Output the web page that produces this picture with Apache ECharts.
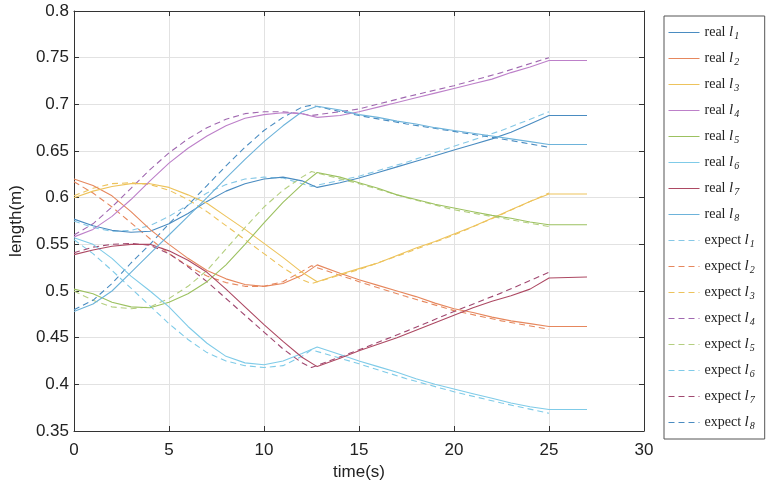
<!DOCTYPE html>
<html><head><meta charset="utf-8">
<script src="https://cdn.jsdelivr.net/npm/echarts@6/dist/echarts.min.js"></script>
<style>html,body{margin:0;padding:0;background:#fff}#c{width:772px;height:489px}</style>
</head><body><div id="c"></div>
<script>
// time grids (s)
const T_REAL = [0,1,2,3,4,5,6,7,8,9,10,11,12,12.8,14,15,16,17,18,19,20,21,22,23,24,25,27];
const T_EXP  = [0,1,2,3,4,5,6,7,8,9,10,11,12,12.5,15,17.5,20,22.5,25];

// real lengths (m)
const REAL_L1 = [0.577,0.570,0.565,0.563,0.564,0.572,0.583,0.596,0.607,0.615,0.620,0.622,0.618,0.611,0.616,0.621,0.627,0.633,0.639,0.645,0.651,0.657,0.663,0.670,0.679,0.688,0.688];
const REAL_L2 = [0.620,0.613,0.602,0.585,0.566,0.550,0.535,0.522,0.513,0.507,0.505,0.508,0.517,0.528,0.519,0.512,0.506,0.500,0.494,0.487,0.481,0.477,0.472,0.468,0.465,0.462,0.462];
const REAL_L3 = [0.600,0.607,0.612,0.615,0.615,0.611,0.603,0.594,0.580,0.566,0.551,0.536,0.520,0.510,0.518,0.524,0.530,0.538,0.546,0.553,0.561,0.569,0.578,0.587,0.596,0.604,0.604];
const REAL_L4 = [0.558,0.566,0.580,0.598,0.618,0.637,0.653,0.666,0.677,0.685,0.689,0.691,0.690,0.686,0.688,0.692,0.697,0.702,0.707,0.712,0.717,0.722,0.727,0.734,0.740,0.747,0.747];
const REAL_L5 = [0.502,0.497,0.488,0.483,0.482,0.488,0.497,0.510,0.528,0.550,0.573,0.595,0.614,0.627,0.622,0.616,0.610,0.603,0.598,0.593,0.589,0.585,0.581,0.578,0.574,0.571,0.571];
const REAL_L6 = [0.557,0.550,0.535,0.516,0.500,0.483,0.462,0.444,0.430,0.423,0.421,0.425,0.433,0.440,0.432,0.425,0.419,0.413,0.406,0.400,0.395,0.390,0.385,0.380,0.376,0.373,0.373];
const REAL_L7 = [0.539,0.544,0.548,0.550,0.550,0.543,0.533,0.520,0.502,0.483,0.464,0.446,0.429,0.419,0.428,0.436,0.443,0.450,0.458,0.466,0.474,0.482,0.489,0.495,0.502,0.514,0.515];
const REAL_L8 = [0.478,0.486,0.500,0.520,0.540,0.560,0.580,0.600,0.621,0.641,0.660,0.677,0.692,0.698,0.694,0.689,0.686,0.682,0.679,0.675,0.672,0.669,0.666,0.663,0.660,0.657,0.657];

// expected lengths (m)
const EXP_L1 = [0.575,0.568,0.564,0.565,0.570,0.580,0.592,0.605,0.614,0.620,0.622,0.621,0.615,0.612,0.623,0.638,0.655,0.672,0.692];
const EXP_L2 = [0.617,0.605,0.590,0.573,0.556,0.540,0.527,0.516,0.509,0.505,0.505,0.510,0.521,0.527,0.510,0.494,0.479,0.468,0.459];
const EXP_L3 = [0.602,0.610,0.615,0.616,0.614,0.608,0.598,0.585,0.570,0.555,0.540,0.525,0.512,0.508,0.523,0.541,0.560,0.582,0.605];
const EXP_L4 = [0.560,0.572,0.590,0.610,0.630,0.648,0.663,0.675,0.684,0.690,0.692,0.692,0.690,0.688,0.695,0.708,0.720,0.734,0.750];
const EXP_L5 = [0.500,0.490,0.483,0.481,0.483,0.492,0.505,0.522,0.545,0.568,0.590,0.608,0.622,0.628,0.615,0.600,0.587,0.578,0.569];
const EXP_L6 = [0.555,0.540,0.522,0.503,0.484,0.465,0.448,0.434,0.425,0.420,0.418,0.420,0.430,0.437,0.422,0.406,0.392,0.380,0.369];
const EXP_L7 = [0.541,0.547,0.550,0.551,0.549,0.540,0.526,0.510,0.492,0.474,0.456,0.438,0.423,0.418,0.437,0.457,0.478,0.498,0.520];
const EXP_L8 = [0.480,0.490,0.508,0.530,0.550,0.572,0.592,0.613,0.634,0.654,0.672,0.686,0.697,0.699,0.688,0.679,0.671,0.663,0.654];

const X_TICKS = [0,5,10,15,20,25,30];
const Y_TICKS = [0.35,0.4,0.45,0.5,0.55,0.6,0.65,0.7,0.75,0.8];

const REAL = [REAL_L1,REAL_L2,REAL_L3,REAL_L4,REAL_L5,REAL_L6,REAL_L7,REAL_L8];
const EXP  = [EXP_L1,EXP_L2,EXP_L3,EXP_L4,EXP_L5,EXP_L6,EXP_L7,EXP_L8];
const REAL_COLORS = ['#4a8cc1','#e6875d','#edc35c','#bd80c9','#9cc160','#7fcbe8','#ad4963','#6db3da'];
const EXP_COLORS  = ['#86c8e6','#e6875d','#edc35c','#a068b0','#b4cf80','#7fcbe8','#a04870','#4a8cc1'];

const series = [];
REAL.forEach((v,i)=>series.push({
  name:'real l'+(i+1), type:'line', symbol:'none', showSymbol:false,
  data:T_REAL.map((t,k)=>[t,v[k]]),
  lineStyle:{color:REAL_COLORS[i], width:1.1}, itemStyle:{color:REAL_COLORS[i]}, z:3
}));
EXP.forEach((v,i)=>series.push({
  name:'expect l'+(i+1), type:'line', symbol:'none', showSymbol:false,
  data:T_EXP.map((t,k)=>[t,v[k]]),
  lineStyle:{color:EXP_COLORS[i], width:1.1, type:[6,4]}, itemStyle:{color:EXP_COLORS[i]}, z:2
}));

const axisLineStyle = {color:'#333', width:1};
const labelFont = {fontFamily:'Liberation Sans', fontSize:17, color:'#222'};

const chart = echarts.init(document.getElementById('c'), null, {renderer:'canvas'});
chart.setOption({
  animation:false,
  backgroundColor:'#fff',
  grid:{left:68, right:128, top:11, bottom:58},
  xAxis:[{
    type:'value', min:X_TICKS[0], max:X_TICKS[X_TICKS.length-1], interval:5,
    name:'time(s)', nameLocation:'middle', nameGap:31,
    nameTextStyle:{fontFamily:'Liberation Sans', fontSize:17, color:'#222'},
    axisLine:{show:true, lineStyle:axisLineStyle},
    axisTick:{show:true, inside:true, length:5, lineStyle:axisLineStyle},
    axisLabel:Object.assign({margin:11}, labelFont),
    splitLine:{show:true, lineStyle:{color:'#e2e2e2', width:1}}
  },{
    type:'value', position:'top', min:X_TICKS[0], max:X_TICKS[X_TICKS.length-1], interval:5,
    axisLine:{show:true, onZero:false, lineStyle:axisLineStyle},
    axisTick:{show:true, inside:true, length:5, lineStyle:axisLineStyle},
    axisLabel:{show:false}, splitLine:{show:false}
  }],
  yAxis:[{
    type:'value', min:Y_TICKS[0], max:Y_TICKS[Y_TICKS.length-1], interval:0.05,
    name:'length(m)', nameLocation:'middle', nameGap:43,
    nameTextStyle:{fontFamily:'Liberation Sans', fontSize:17, color:'#222'},
    axisLine:{show:true, lineStyle:axisLineStyle},
    axisTick:{show:true, inside:true, length:5, lineStyle:axisLineStyle},
    axisLabel:Object.assign({margin:5, formatter:v=>String(+v.toFixed(2))}, labelFont),
    splitLine:{show:true, lineStyle:{color:'#e2e2e2', width:1}}
  },{
    type:'value', position:'right', min:Y_TICKS[0], max:Y_TICKS[Y_TICKS.length-1], interval:0.05,
    axisLine:{show:true, onZero:false, lineStyle:axisLineStyle},
    axisTick:{show:true, inside:true, length:5, lineStyle:axisLineStyle},
    axisLabel:{show:false}, splitLine:{show:false}
  }],
  legend:{
    orient:'vertical', left:664, top:16,
    padding:[8,10,8,4], itemGap:9, itemWidth:31, itemHeight:14,
    borderColor:'#555', borderWidth:1, backgroundColor:'#fff',
    itemStyle:{opacity:0},
    lineStyle:{width:1},
    data:series.map(s=>s.name),
    formatter:name=>{
      const m = name.match(/^(\w+) l(\d)$/);
      return '{a|'+m[1]+' }{i|l}{s|'+m[2]+'}';
    },
    textStyle:{
      color:'#222',
      rich:{
        a:{fontFamily:'Liberation Serif', fontSize:14, color:'#222', lineHeight:16},
        i:{fontFamily:'Liberation Serif', fontStyle:'italic', fontSize:15, color:'#222', lineHeight:16},
        s:{fontFamily:'Liberation Serif', fontStyle:'italic', fontSize:10, color:'#222', lineHeight:10, padding:[7,0,0,1]}
      }
    }
  },
  series:series
});
</script></body></html>
